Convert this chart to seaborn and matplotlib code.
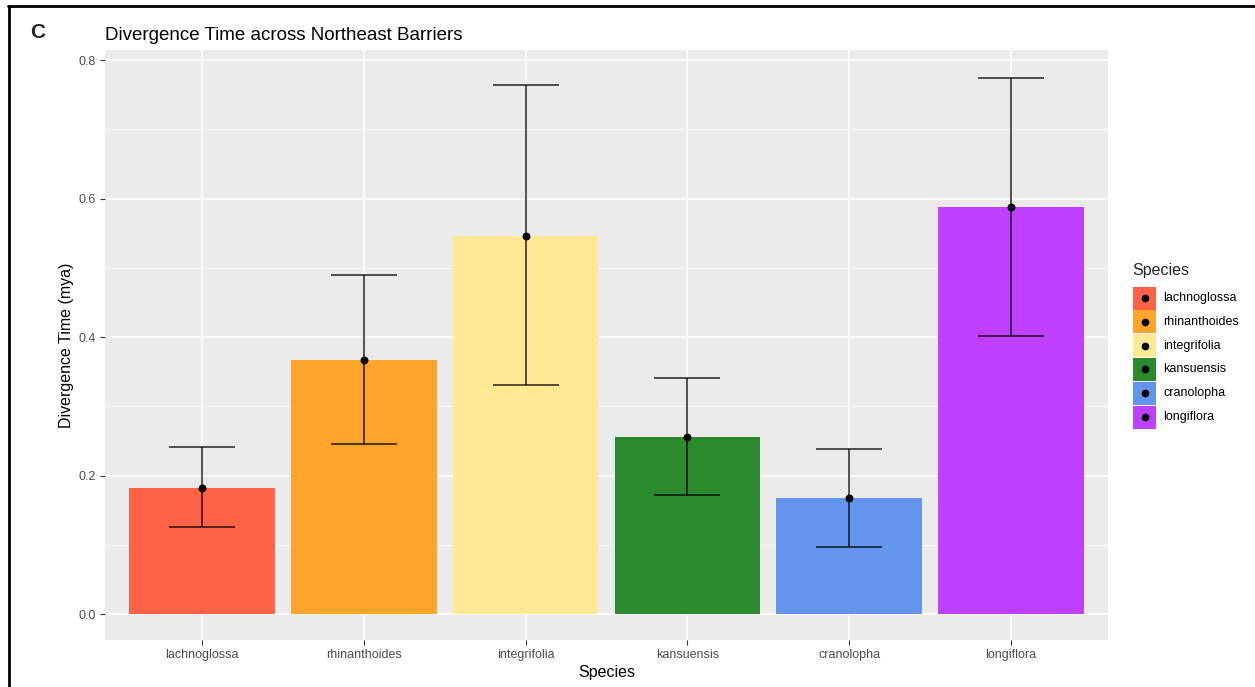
import matplotlib
matplotlib.use("Agg")
import matplotlib.pyplot as plt
from matplotlib.patches import Rectangle
from matplotlib.lines import Line2D
from matplotlib.ticker import MultipleLocator
import seaborn as sns
import pandas as pd

species = ["lachnoglossa", "rhinanthoides", "integrifolia", "kansuensis", "cranolopha", "longiflora"]
divergence = [0.182, 0.367, 0.546, 0.256, 0.168, 0.588]
lower = [0.126, 0.245, 0.331, 0.172, 0.097, 0.401]
upper = [0.241, 0.490, 0.764, 0.341, 0.238, 0.774]
colors = ["#FF6347", "#FFA52C", "#FFE994", "#2A8A2D", "#6495ED", "#BF40FF"]

df = pd.DataFrame({"Species": species, "Divergence": divergence,
                   "lower": lower, "upper": upper})
df["Species"] = pd.Categorical(df["Species"], categories=species, ordered=True)

sns.set_theme(style="white")
plt.rcParams["font.family"] = ["Liberation Sans", "DejaVu Sans"]

W, H = 1255, 687
fig = plt.figure(figsize=(W / 100, H / 100), dpi=100)
ax = fig.add_axes([105 / W, 1 - 640 / H, (1108 - 105) / W, (640 - 50) / H])
ax.set_facecolor("#EBEBEB")

sns.barplot(data=df, x="Species", y="Divergence", hue="Species",
            palette=dict(zip(species, colors)), width=0.9, saturation=1,
            linewidth=0, edgecolor="none", legend=False, ax=ax, zorder=2)

xs = range(len(species))
ax.errorbar(xs, df["Divergence"],
            yerr=[df["Divergence"] - df["lower"], df["upper"] - df["Divergence"]],
            fmt="none", ecolor="black", alpha=0.72, elinewidth=1.3,
            capsize=24, capthick=1.3, zorder=3)
ax.scatter(xs, df["Divergence"], s=22, color="black", zorder=4)

# ggplot-like panel: white major and minor grid, no frame
ax.set_xlim(-0.6, 5.6)
ax.set_ylim(-0.0375, 0.8145)
ax.yaxis.set_major_locator(MultipleLocator(0.2))
ax.yaxis.set_minor_locator(MultipleLocator(0.1))
ax.set_yticklabels([f"{v:.1f}" for v in ax.get_yticks()])
ax.grid(which="major", color="white", linewidth=1.1, zorder=0)
ax.grid(which="minor", axis="y", color="white", linewidth=0.55, zorder=0)
ax.set_axisbelow(True)
for s in ax.spines.values():
    s.set_visible(False)
ax.tick_params(axis="both", which="major", length=3.5, width=0.8, color="#333333",
               labelsize=9, labelcolor="#4D4D4D", pad=3, bottom=True, left=True)
ax.tick_params(axis="y", which="minor", length=0)

ax.set_xlabel("Species", fontsize=11.5, color="black", labelpad=3)
ax.set_ylabel("Divergence Time (mya)", fontsize=11.5, color="black", labelpad=3)
ax.set_title("Divergence Time across Northeast Barriers", fontsize=13.5,
             loc="left", pad=7, color="black")

# legend: colour keys with a black point, as in a ggplot guide
fig.text(1132 / W, 1 - 270 / H, "Species", fontsize=11.5, va="center", ha="left")
key_y0, key_step, key_size = 298, 23.8, 23
for i, (name, c) in enumerate(zip(species, colors)):
    cy = key_y0 + i * key_step
    fig.add_artist(Rectangle((1133 / W, 1 - (cy + key_size / 2) / H), key_size / W, key_size / H,
                             facecolor=c, edgecolor="none", transform=fig.transFigure))
    fig.add_artist(Line2D([(1133 + key_size / 2) / W], [1 - cy / H], marker="o",
                          markersize=4.5, color="black", linestyle="none",
                          transform=fig.transFigure))
    fig.text(1163 / W, 1 - cy / H, name, fontsize=9, va="center", ha="left", color="black")

fig.text(30 / W, 1 - 33 / H, "C", fontsize=15, fontweight="bold", va="center")

# panel frame lines on top and left
fig.add_artist(Line2D([8 / W, 1], [1 - 5.5 / H, 1 - 5.5 / H], color="black",
                      linewidth=2, transform=fig.transFigure))
fig.add_artist(Line2D([8.5 / W, 8.5 / W], [0, 1 - 5.5 / H], color="black",
                      linewidth=2, transform=fig.transFigure))

fig.savefig("out.png", dpi=100)
